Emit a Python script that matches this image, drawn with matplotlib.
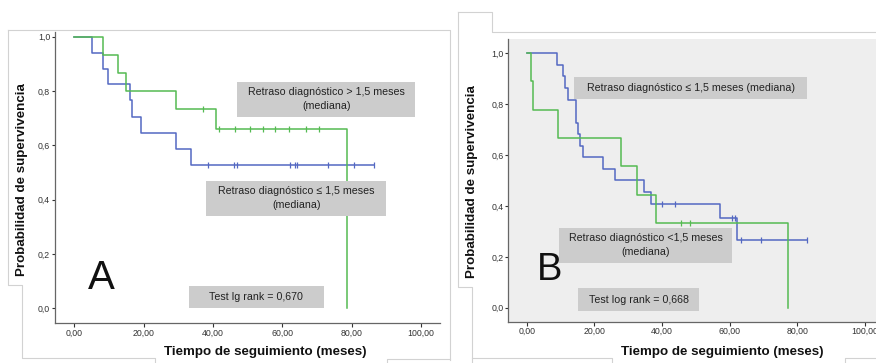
import numpy as np
import matplotlib

matplotlib.use("Agg")
import matplotlib.pyplot as plt
from matplotlib.patches import Rectangle

plt.rcParams["font.family"] = ["Liberation Sans", "DejaVu Sans"]

# Panel A: Kaplan-Meier, retraso diagnostico > / <= 1,5 meses
a_green_t = [0, 8.4, 12.5, 14.8, 29.3, 40.8, 78.6]
a_green_s = [1.0, 0.933, 0.867, 0.800, 0.733, 0.660, 0.0]
a_green_cens = [37.0, 41.6, 46.4, 50.7, 54.3, 58.0, 62.0, 66.8, 70.6]

a_blue_t = [0, 5.0, 8.2, 9.6, 16.1, 16.7, 19.3, 29.3, 33.6]
a_blue_s = [1.0, 0.941, 0.882, 0.824, 0.765, 0.706, 0.647, 0.588, 0.529]
a_blue_cens = [38.5, 46.2, 46.8, 62.3, 63.7, 64.2, 73.3, 80.7, 86.6]

# Panel B
b_green_t = [0, 1.3, 2.0, 9.1, 27.9, 32.7, 38.3, 77.1]
b_green_s = [1.0, 0.889, 0.778, 0.667, 0.556, 0.444, 0.333, 0.0]
b_green_cens = [45.5, 48.3]

b_blue_t = [0, 8.9, 10.6, 11.3, 12.3, 14.5, 15.1, 15.6, 16.7, 22.5, 26.2, 34.7, 36.7, 57.0, 62.1]
b_blue_s = [1.0, 0.955, 0.909, 0.864, 0.818, 0.727, 0.682, 0.636, 0.591, 0.545, 0.500,
            0.455, 0.409, 0.351, 0.266]
b_blue_cens = [40.1, 43.8, 60.7, 61.4, 63.2, 69.1, 82.7]

x_ticks = [0, 20, 40, 60, 80, 100]
y_ticks = [0.0, 0.2, 0.4, 0.6, 0.8, 1.0]

GREEN = "#55bb52"
BLUE = "#5468c2"
BOX = "#cccccc"
FRAME = "#d2d2d2"

W, H = 876, 363


def surv_at(ts, ss, t):
  idx = np.searchsorted(ts, t, side="right") - 1
  return ss[idx]


def km_curve(ax, ts, ss, cens, color, z):
  end = max(ts[-1], max(cens) if cens else ts[-1])
  xs = list(ts) + [end]
  ys = list(ss) + [ss[-1]]
  ax.step(xs, ys, where="post", color=color, lw=1.1, zorder=z)
  cy = [surv_at(ts, ss, c) for c in cens]
  ax.plot(cens, cy, ls="none", marker="|", ms=4.5, mew=0.9, color=color, zorder=z)


def px_axes(fig, x0, y0, x1, y1):
  return fig.add_axes([x0 / W, 1 - y1 / H, (x1 - x0) / W, (y1 - y0) / H])


def style_axes(ax, xlim, ylim, face):
  ax.set_xlim(*xlim)
  ax.set_ylim(*ylim)
  ax.set_facecolor(face)
  ax.spines["top"].set_visible(False)
  ax.spines["right"].set_visible(False)
  for s in ("left", "bottom"):
    ax.spines[s].set_color("#666666")
    ax.spines[s].set_linewidth(0.9)
  ax.set_xticks(x_ticks)
  ax.set_xticklabels([f"{v:.2f}".replace(".", ",") for v in x_ticks])
  ax.set_yticks(y_ticks)
  ax.set_yticklabels([f"{v:.1f}".replace(".", ",") for v in y_ticks])
  ax.tick_params(axis="both", labelsize=6.3, colors="#333333", width=0.8, pad=1)
  ax.tick_params(axis="y", length=2.5)
  ax.tick_params(axis="x", length=3)


def label_box(ax, x0, x1, y0, y1, text, size=7.7):
  ax.add_patch(Rectangle((x0, y0), x1 - x0, y1 - y0, facecolor=BOX, edgecolor="none", zorder=5))
  ax.text((x0 + x1) / 2, (y0 + y1) / 2, text, ha="center", va="center",
          fontsize=size, color="#222222", zorder=6, linespacing=1.5)


fig = plt.figure(figsize=(W / 100, H / 100), dpi=100)
fig.patch.set_facecolor("white")

# overlay in pixel coordinates for frames and titles
ov = fig.add_axes([0, 0, 1, 1], zorder=-5)
ov.set_xlim(0, W)
ov.set_ylim(H, 0)
ov.axis("off")

frame_paths = [
  [(8, 30), (450, 30), (450, 360)],
  [(8, 30), (8, 285), (21.7, 285), (21.7, 358), (155, 358), (155, 363)],
  [(386.7, 363), (386.7, 359), (450, 359)],
  [(458, 12), (492, 12), (492, 32), (876, 32)],
  [(458, 12), (458, 287), (471.7, 287), (471.7, 363)],
  [(471.7, 358), (611.7, 358), (611.7, 363)],
  [(845, 363), (845, 358), (876, 358)],
]
for path in frame_paths:
  xs, ys = zip(*path)
  ov.plot(xs, ys, color=FRAME, lw=0.8)

# ---- Panel A ----
axA = px_axes(fig, 55, 32, 440, 323)
style_axes(axA, (-5.57, 105.5), (-0.054, 1.017), "white")
km_curve(axA, a_blue_t, a_blue_s, a_blue_cens, BLUE, 3)
km_curve(axA, a_green_t, a_green_s, a_green_cens, GREEN, 4)
label_box(axA, 46.9, 98.4, 0.705, 0.834, "Retraso diagnóstico > 1,5 meses\n(mediana)")
label_box(axA, 38.0, 90.0, 0.340, 0.469, "Retraso diagnóstico ≤ 1,5 meses\n(mediana)")
label_box(axA, 33.1, 71.9, 0.0, 0.082, "Test lg rank = 0,670")
axA.text(7.85, 0.113, "A", fontsize=29, ha="center", va="center", color="#111111")

ov.text(21.7, 179.5, "Probabilidad de supervivencia", rotation=90, ha="center", va="center",
        fontsize=9.6, fontweight="bold", color="#111111")
ov.text(265.5, 352, "Tiempo de seguimiento (meses)", ha="center", va="center",
        fontsize=9.6, fontweight="bold", color="#111111")

# ---- Panel B ----
axB = px_axes(fig, 508.3, 39, 876, 321.7)
style_axes(axB, (-5.44, 103.2), (-0.055, 1.056), "#eeeeee")
km_curve(axB, b_blue_t, b_blue_s, b_blue_cens, BLUE, 3)
km_curve(axB, b_green_t, b_green_s, b_green_cens, GREEN, 4)
label_box(axB, 14.1, 82.8, 0.819, 0.908, "Retraso diagnóstico ≤ 1,5 meses (mediana)")
label_box(axB, 9.6, 60.6, 0.175, 0.314, "Retraso diagnóstico <1,5 meses\n(mediana)")
label_box(axB, 15.3, 51.0, -0.012, 0.076, "Test log rank = 0,668")
axB.text(6.65, 0.147, "B", fontsize=27.5, ha="center", va="center", color="#111111")

ov.text(472.3, 181.7, "Probabilidad de supervivencia", rotation=90, ha="center", va="center",
        fontsize=9.6, fontweight="bold", color="#111111")
ov.text(722.5, 352.3, "Tiempo de seguimiento (meses)", ha="center", va="center",
        fontsize=9.6, fontweight="bold", color="#111111")

fig.savefig("out.png", dpi=100)
